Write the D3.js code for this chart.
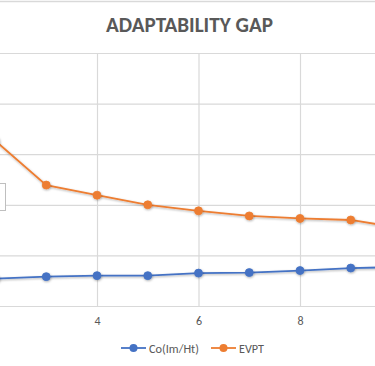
<!DOCTYPE html>
<html><head><meta charset="utf-8">
<script src="https://cdn.jsdelivr.net/npm/d3@7"></script>
<style>html,body{margin:0;padding:0;background:#fff;overflow:hidden}</style>
</head><body>
<svg id="c" width="375" height="366"></svg>
<script>
const xValues = [2, 3, 4, 5, 6, 7, 8, 9, 10];
const coValues = [5.4, 5.8, 6.0, 6.0, 6.5, 6.6, 7.0, 7.5, 7.7];
const evptValues = [32.6, 23.9, 21.9, 20.0, 18.8, 17.8, 17.3, 17.0, 15.4];
const xTicks = [4, 6, 8];
const yTicks = [0, 10, 20, 30, 40, 50];
const seriesNames = ["Co(Im/Ht)", "EVPT"];
const seriesColors = ["#4472C4", "#ED7D31"];

const svg = d3.select("#c");
const x = d3.scaleLinear().domain([4, 8]).range([97, 300]);
const y = d3.scaleLinear().domain([0, 50]).range([306, 53]);
const font = "Calibri, Carlito, Lato, 'Open Sans', sans-serif";

// top border line
svg.append("line").attr("x1", 0).attr("x2", 375).attr("y1", 1.5).attr("y2", 1.5)
  .attr("stroke", "#d9d9d9").attr("stroke-width", 1.5);

// horizontal gridlines
svg.append("g").selectAll("line").data(yTicks).join("line")
  .attr("x1", 0).attr("x2", 375)
  .attr("y1", d => y(d) + 0.5).attr("y2", d => y(d) + 0.5)
  .attr("stroke", "#d9d9d9").attr("stroke-width", 1.2);
// vertical gridlines
svg.append("g").selectAll("line").data(xTicks).join("line")
  .attr("x1", d => x(d) + 0.5).attr("x2", d => x(d) + 0.5)
  .attr("y1", y(50)).attr("y2", y(0))
  .attr("stroke", "#d9d9d9").attr("stroke-width", 1.2);

// x axis tick labels
const xAxis = d3.axisBottom(x).tickValues(xTicks).tickFormat(d3.format("d")).tickSize(0).tickPadding(10);
const gx = svg.append("g").attr("transform", `translate(0,${y(0)})`).call(xAxis);
gx.select(".domain").remove();
gx.selectAll("text").attr("fill", "#595959").attr("font-size", 12).attr("font-family", font);

// small box fragment at left
svg.append("rect").attr("x", -10).attr("y", 183.5).attr("width", 15.5).attr("height", 27)
  .attr("fill", "#fff").attr("stroke", "#bfbfbf").attr("stroke-width", 1);

const defs = svg.append("defs");
const f = defs.append("filter").attr("id", "sh").attr("x", "-50%").attr("y", "-50%").attr("width", "200%").attr("height", "200%");
f.append("feDropShadow").attr("dx", 0.5).attr("dy", 1).attr("stdDeviation", 0.8).attr("flood-color", "#000").attr("flood-opacity", 0.3);

const seriesData = [coValues, evptValues];
seriesData.forEach((vals, i) => {
  const pts = xValues.map((xv, j) => [xv, vals[j]]);
  const line = d3.line().x(d => x(d[0])).y(d => y(d[1]));
  svg.append("path").datum(pts).attr("d", line).attr("fill", "none")
    .attr("stroke", seriesColors[i]).attr("stroke-width", 1.8).attr("filter", "url(#sh)");
  svg.append("g").selectAll("circle").data(pts).join("circle")
    .attr("cx", d => x(d[0])).attr("cy", d => y(d[1])).attr("r", 4)
    .attr("fill", seriesColors[i]).attr("stroke", seriesColors[i]).attr("stroke-width", 0.8)
    .attr("filter", "url(#sh)");
});

// title
const title = svg.append("text").attr("x", 189.5).attr("y", 32).attr("text-anchor", "middle")
  .attr("font-family", font).attr("font-weight", "bold").attr("font-size", 20)
  .attr("fill", "#595959").text("ADAPTABILITY GAP");
const tw = title.node().getComputedTextLength();
title.attr("font-size", 20 * 167 / tw);

// legend
const legX = [121, 211];
const textWidths = [50, 25];
seriesNames.forEach((name, i) => {
  const g = svg.append("g");
  g.append("line").attr("x1", legX[i]).attr("x2", legX[i] + 25).attr("y1", 348).attr("y2", 348)
    .attr("stroke", seriesColors[i]).attr("stroke-width", 1.8);
  g.append("circle").attr("cx", legX[i] + 12.5).attr("cy", 348).attr("r", 4).attr("fill", seriesColors[i]);
  const t = g.append("text").attr("x", legX[i] + 28).attr("y", 352.5)
    .attr("font-family", font).attr("font-size", 12.5).attr("fill", "#595959").text(name);
  const w = t.node().getComputedTextLength();
  t.attr("font-size", 12.5 * textWidths[i] / w);
});
</script>
</body></html>
